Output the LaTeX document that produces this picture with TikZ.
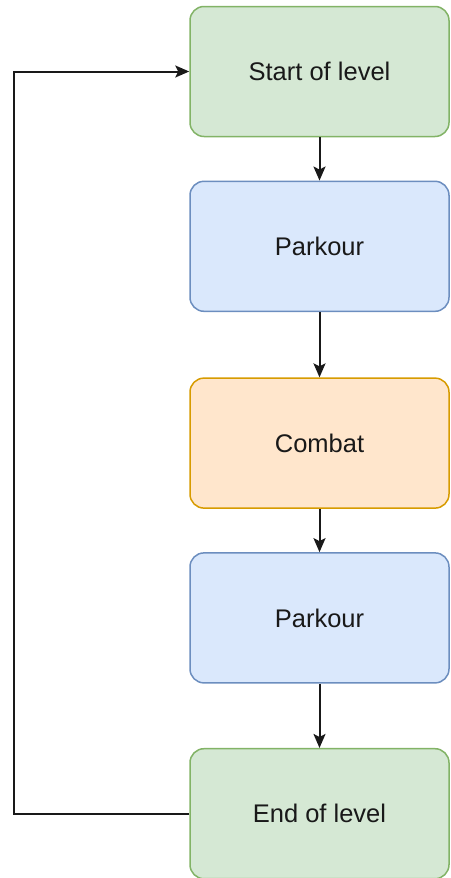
\documentclass[tikz,border=0pt]{standalone}
\usepackage{fontspec}
\setmainfont{Liberation Sans}
\usetikzlibrary{arrows.meta, positioning}
\definecolor{lvlGreen}{HTML}{D5E8D4}
\definecolor{lvlGreenLine}{HTML}{82B366}
\definecolor{lvlBlue}{HTML}{DAE8FC}
\definecolor{lvlBlueLine}{HTML}{6C8EBF}
\definecolor{lvlOrange}{HTML}{FFE6CC}
\definecolor{lvlOrangeLine}{HTML}{D79B00}
\tikzset{
  lvlnode/.style={
    draw, rounded corners=14pt, minimum height=130pt, minimum width=259pt,
    font=\fontsize{25.5}{30}\selectfont, align=center, line width=1.5pt, text=black!90
  },
  stage/.style={lvlnode, fill=lvlGreen, draw=lvlGreenLine},
  parkour/.style={lvlnode, fill=lvlBlue, draw=lvlBlueLine},
  combat/.style={lvlnode, fill=lvlOrange, draw=lvlOrangeLine},
  flow/.style={-{Stealth[length=14pt, width=12pt, inset=3pt]}, line width=2pt, black!90}
}
\begin{document}
\begin{tikzpicture}[x=1pt, y=1pt]
  \useasboundingbox (0,0) rectangle (450,-878);
  \node[stage] (start) at (319.5,-71.5) {Start of level};
  \node[parkour, below=43.3pt of start] (park1) {Parkour};
  \node[combat, below=65.3pt of park1] (fight) {Combat};
  \node[parkour, below=43.3pt of fight] (park2) {Parkour};
  \node[stage, below=64.3pt of park2] (finish) {End of level};
  \draw[flow] (start) -- (park1);
  \draw[flow] (park1) -- (fight);
  \draw[flow] (fight) -- (park2);
  \draw[flow] (park2) -- (finish);
  \draw[flow] (finish.west) -- ++(-175,0) |- (start.west);
\end{tikzpicture}
\end{document}
